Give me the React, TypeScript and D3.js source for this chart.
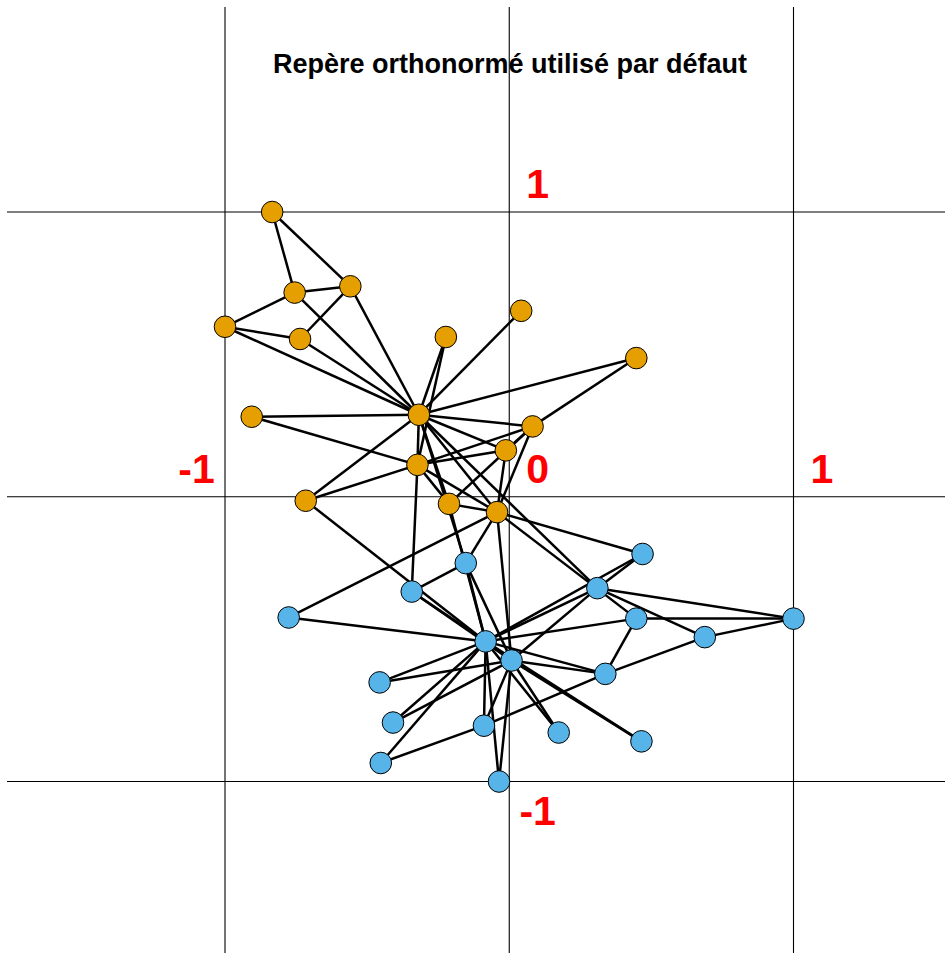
import React from "react";
import * as d3 from "d3";

const W = 945;
const H = 953;

const title = "Repère orthonormé utilisé par défaut";

// Karate club layout (normalized to [-1, 1]), nodes 1..34
const nodeX = [
  -0.318, -0.323, -0.043, 0.082, -0.736, -0.755, -0.559, -0.012, -0.153, -0.776,
  -1.0, 0.042, 0.447, -0.212, -0.456, -0.409, -0.834, -0.223, 0.174, -0.716,
  0.465, -0.906, -0.036, 0.338, 1.0, 0.688, -0.452, 0.447, 0.469, -0.089,
  -0.343, 0.31, 0.008, -0.083,
];
const nodeY = [
  0.288, 0.112, -0.054, 0.247, 0.554, 0.717, 0.739, 0.163, -0.233, -0.424,
  0.597, 0.653, 0.487, -0.025, -0.652, -0.793, 1.0, 0.561, -0.828, -0.014,
  -0.859, 0.281, -1.0, -0.622, -0.428, -0.493, -0.935, -0.428, -0.201, -0.804,
  -0.333, -0.321, -0.575, -0.508,
];
const faction = [
  1, 1, 1, 1, 1, 1, 1, 1, 2, 2, 1, 1, 1, 1, 2, 2, 1, 1, 2, 1, 2, 1, 2, 2, 2, 2,
  2, 2, 2, 2, 2, 2, 2, 2,
];

const edgeFrom = [
  1, 1, 1, 1, 1, 1, 1, 1, 1, 1, 1, 1, 1, 1, 1, 1,
  2, 2, 2, 2, 2, 2, 2, 2,
  3, 3, 3, 3, 3, 3, 3, 3,
  4, 4, 4,
  5, 5,
  6, 6, 6,
  7,
  9, 9, 9,
  10,
  14,
  15, 15,
  16, 16,
  19, 19,
  20,
  21, 21,
  23, 23,
  24, 24, 24, 24, 24,
  25, 25, 25,
  26,
  27, 27,
  28,
  29, 29,
  30, 30,
  31, 31,
  32, 32,
  33,
];
const edgeTo = [
  2, 3, 4, 5, 6, 7, 8, 9, 11, 12, 13, 14, 18, 20, 22, 32,
  3, 4, 8, 14, 18, 20, 22, 31,
  4, 8, 9, 10, 14, 28, 29, 33,
  8, 13, 14,
  7, 11,
  7, 11, 17,
  17,
  31, 33, 34,
  34,
  34,
  33, 34,
  33, 34,
  33, 34,
  34,
  33, 34,
  33, 34,
  26, 28, 30, 33, 34,
  26, 28, 32,
  32,
  30, 34,
  34,
  32, 34,
  33, 34,
  33, 34,
  33, 34,
  34,
];
const factionColors = ["#E69F00", "#56B4E9"];

const labelText = ["1", "-1", "0", "1", "-1"];
const labelX = [0.1, -1.1, 0.1, 1.1, 0.1];
const labelY = [1.1, 0.1, 0.1, 0.1, -1.1];
const gridValues = [-1, 0, 1];

export default function App() {
  const x = d3.scaleLinear().domain([-1, 1]).range([225, 793.5]);
  const y = d3.scaleLinear().domain([-1, 1]).range([781.5, 212]);

  return (
    <svg
      width={W}
      height={H}
      style={{ position: "absolute", left: 0, top: 0, background: "#fff" }}
    >
      <rect x={0} y={0} width={W} height={H} fill="#fff" />
      {gridValues.map((v) => (
        <line
          key={"v" + v}
          x1={x(v)}
          x2={x(v)}
          y1={7}
          y2={H}
          stroke="#000"
          strokeWidth={1.1}
        />
      ))}
      {gridValues.map((v) => (
        <line
          key={"h" + v}
          x1={7}
          x2={W}
          y1={y(v)}
          y2={y(v)}
          stroke="#000"
          strokeWidth={1.1}
        />
      ))}
      <text
        x={510}
        y={73}
        textAnchor="middle"
        fontFamily="'Liberation Sans', Arial, sans-serif"
        fontWeight="bold"
        fontSize={27}
      >
        {title}
      </text>
      {labelText.map((t, i) => (
        <text
          key={"l" + i}
          x={x(labelX[i])}
          y={y(labelY[i])}
          dy="0.36em"
          textAnchor="middle"
          fontFamily="'Liberation Sans', Arial, sans-serif"
          fontWeight="bold"
          fontSize={41}
          fill="#FF0000"
        >
          {t}
        </text>
      ))}
      {edgeFrom.map((a, i) => {
        const b = edgeTo[i];
        return (
          <line
            key={"e" + i}
            x1={x(nodeX[a - 1])}
            y1={y(nodeY[a - 1])}
            x2={x(nodeX[b - 1])}
            y2={y(nodeY[b - 1])}
            stroke="#000"
            strokeWidth={2.5}
          />
        );
      })}
      {nodeX.map((nx, i) => (
        <circle
          key={"n" + i}
          cx={x(nx)}
          cy={y(nodeY[i])}
          r={10.8}
          fill={factionColors[faction[i] - 1]}
          stroke="#000"
          strokeWidth={1}
        />
      ))}
    </svg>
  );
}
